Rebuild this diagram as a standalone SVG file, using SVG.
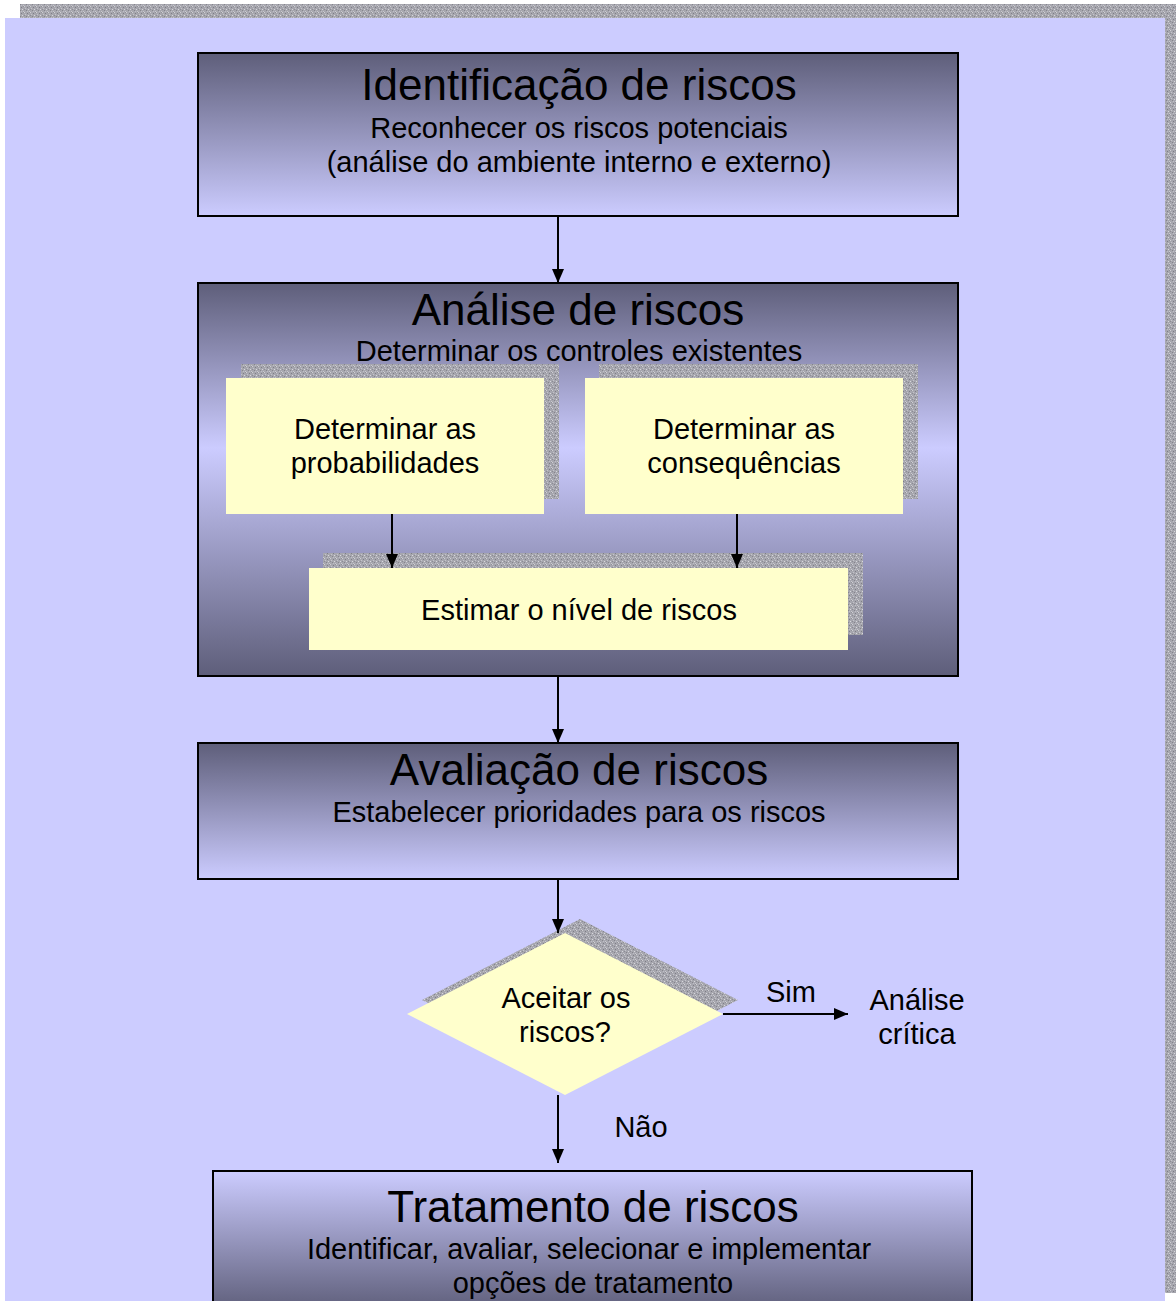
<svg xmlns="http://www.w3.org/2000/svg" width="1176" height="1301" viewBox="0 0 1176 1301">
<defs>
<style>
text{font-family:"Liberation Sans",Arial,sans-serif;fill:#000;text-anchor:middle}
.t{font-size:44px}
.s{font-size:29px}
.box{stroke:#000;stroke-width:2}
.yel{fill:#FFFFCC}
.sh{fill:url(#noise)}
.con{stroke:#000;stroke-width:2;fill:none;marker-end:url(#ah)}
</style>
<pattern id="noise" width="6" height="6" patternUnits="userSpaceOnUse">
<rect width="6" height="6" fill="#A6A6AE"/>
<rect x="0" y="0" width="1" height="1" fill="#D0D0D4"/>
<rect x="3" y="1" width="1" height="1" fill="#7E7E86"/>
<rect x="1" y="2" width="1" height="1" fill="#C4C4CA"/>
<rect x="4" y="3" width="1" height="1" fill="#D8D8DC"/>
<rect x="2" y="4" width="1" height="1" fill="#85858C"/>
<rect x="5" y="5" width="1" height="1" fill="#C8C8CE"/>
<rect x="0" y="3" width="1" height="1" fill="#8C8C94"/>
<rect x="5" y="0" width="1" height="1" fill="#909098"/>
<rect x="3" y="5" width="1" height="1" fill="#BEBEC6"/>
</pattern>
<linearGradient id="gDown" x1="0" y1="0" x2="0" y2="1">
<stop offset="0" stop-color="#5E5E7A"/>
<stop offset="1" stop-color="#CCCCFF"/>
</linearGradient>
<linearGradient id="gMid" x1="0" y1="0" x2="0" y2="1">
<stop offset="0" stop-color="#5E5E7A"/>
<stop offset="0.42" stop-color="#CCCCFF"/>
<stop offset="1" stop-color="#5E5E7A"/>
</linearGradient>
<linearGradient id="gUp" x1="0" y1="0" x2="0" y2="1">
<stop offset="0" stop-color="#CCCCFF"/>
<stop offset="1" stop-color="#5E5E7A"/>
</linearGradient>
<marker id="ah" markerUnits="userSpaceOnUse" markerWidth="14" markerHeight="12" refX="14" refY="6" orient="auto">
<path d="M0,0 L14,6 L0,12 z" fill="#000"/>
</marker>
</defs>
<rect width="1176" height="1301" fill="#FFFFFF"/>
<rect x="20" y="4" width="1156" height="1289" class="sh"/>
<rect x="5" y="18" width="1160" height="1283" fill="#CCCCFF"/>

<g id="identificacao">
<rect x="198" y="53" width="760" height="163" fill="url(#gDown)" class="box"/>
<text class="t" x="579" y="100">Identificação de riscos</text>
<text class="s" x="579" y="138">Reconhecer os riscos potenciais</text>
<text class="s" x="579" y="172">(análise do ambiente interno e externo)</text>
</g>

<g id="analise">
<rect x="198" y="283" width="760" height="393" fill="url(#gMid)" class="box"/>
<text class="t" x="578" y="325">Análise de riscos</text>
<text class="s" x="579" y="361">Determinar os controles existentes</text>
</g>

<g id="probabilidades">
<rect x="241" y="364" width="318" height="135" class="sh"/>
<rect x="226" y="378" width="318" height="136" class="yel"/>
<text class="s" x="385" y="439">Determinar as</text>
<text class="s" x="385" y="473">probabilidades</text>
</g>

<g id="consequencias">
<rect x="599" y="364" width="319" height="135" class="sh"/>
<rect x="585" y="378" width="318" height="136" class="yel"/>
<text class="s" x="744" y="439">Determinar as</text>
<text class="s" x="744" y="473">consequências</text>
</g>

<g id="estimar">
<rect x="323" y="553" width="540" height="82" class="sh"/>
<rect x="309" y="568" width="539" height="82" class="yel"/>
<text class="s" x="579" y="620">Estimar o nível de riscos</text>
</g>

<g id="avaliacao">
<rect x="198" y="743" width="760" height="136" fill="url(#gDown)" class="box"/>
<text class="t" x="579" y="785">Avaliação de riscos</text>
<text class="s" x="579" y="822">Estabelecer prioridades para os riscos</text>
</g>

<g id="decisao">
<polygon points="580,919 738,1000 580,1081 422,1000" class="sh"/>
<polygon points="565,933 723,1014 565,1095 407,1014" class="yel"/>
<text class="s" x="566" y="1008">Aceitar os</text>
<text class="s" x="565" y="1042">riscos?</text>
</g>

<g id="analise-critica">
<text class="s" x="917" y="1010">Análise</text>
<text class="s" x="917" y="1044">crítica</text>
</g>

<g id="tratamento">
<rect x="213" y="1171" width="759" height="140" fill="url(#gUp)" class="box"/>
<text class="t" x="593" y="1222">Tratamento de riscos</text>
<text class="s" x="589" y="1259">Identificar, avaliar, selecionar e implementar</text>
<text class="s" x="593" y="1293">opções de tratamento</text>
</g>

<g id="connectors">
<line x1="558" y1="216" x2="558" y2="283" class="con"/>
<line x1="392" y1="514" x2="392" y2="568" class="con"/>
<line x1="737" y1="514" x2="737" y2="568" class="con"/>
<line x1="558" y1="676" x2="558" y2="743" class="con"/>
<line x1="558" y1="879" x2="558" y2="933" class="con"/>
<line x1="723" y1="1014" x2="848" y2="1014" class="con"/>
<line x1="558" y1="1095" x2="558" y2="1163" class="con"/>
<text class="s" x="791" y="1002">Sim</text>
<text class="s" x="641" y="1137">Não</text>
</g>
</svg>
